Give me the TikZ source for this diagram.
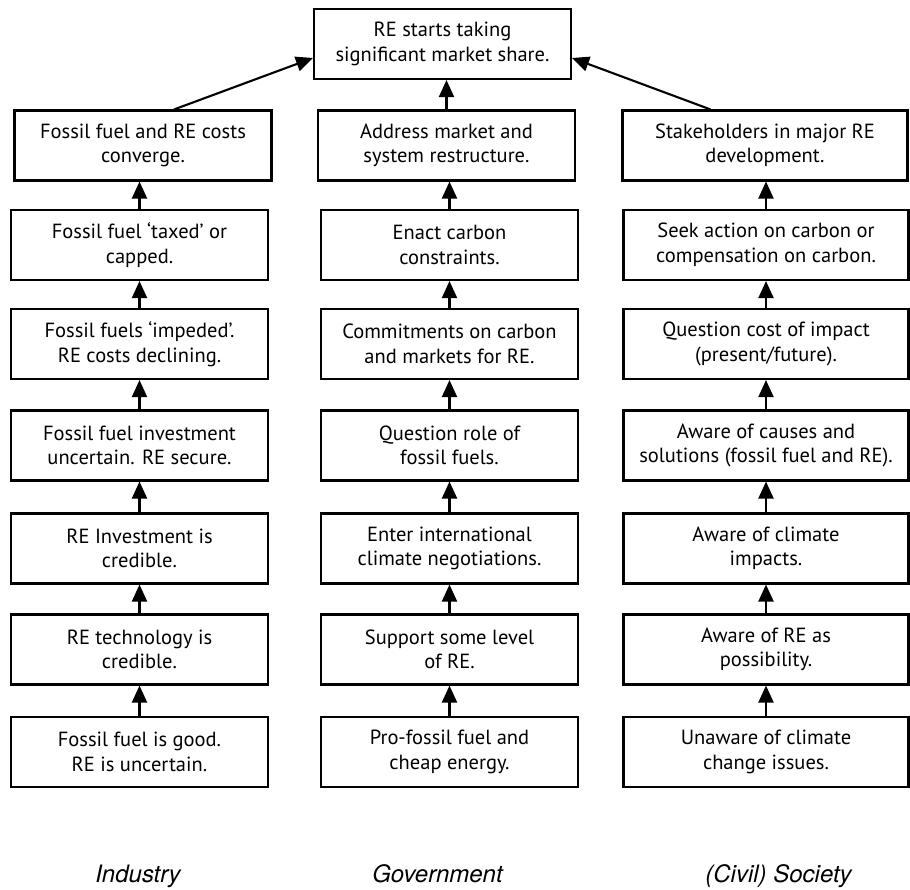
\documentclass[tikz,border=0pt]{standalone}
\usepackage{fontspec}
\setmainfont{PT Sans}
\newfontfamily\labelfont{TeX Gyre Heros}
\usetikzlibrary{arrows.meta,calc}
\begin{document}
\begin{tikzpicture}[x=1pt,y=-1pt,
  stage/.style={draw=black, line width=2.1pt, fill=white, align=center,
    minimum width=257pt, minimum height=70pt, inner sep=0pt,
    font=\fontsize{20.5}{24.5}\selectfont},
  widestage/.style={stage, minimum width=285pt},
  up/.style={line width=2.1pt, -{Triangle[length=17pt,width=15pt]}},
  sector/.style={anchor=base, font=\labelfont\itshape\fontsize{24}{28}\selectfont}]
\useasboundingbox (0,0) rectangle (910,890);

% goal
\node[stage] (top) at (442.5,44) {RE starts taking\\significant market share.};

% industry column
\node[stage] (i1) at (143,145.5) {Fossil fuel and RE costs\\converge.};
\node[stage] (i2) at (139.5,245) {Fossil fuel ‘taxed’ or\\capped.};
\node[stage] (i3) at (139.5,344) {Fossil fuels ‘impeded’.\\RE costs declining.};
\node[stage] (i4) at (139.5,445.5) {Fossil fuel investment\\uncertain. RE secure.};
\node[stage] (i5) at (139.5,548.5) {RE Investment is\\credible.};
\node[stage] (i6) at (139.5,649.5) {RE technology is\\credible.};
\node[stage] (i7) at (139.5,752) {Fossil fuel is good.\\RE is uncertain.};

% government column
\node[stage] (g1) at (446.5,145.5) {Address market and\\system restructure.};
\node[stage] (g2) at (449.5,245) {Enact carbon\\constraints.};
\node[stage] (g3) at (449.5,344) {Commitments on carbon\\and markets for RE.};
\node[stage] (g4) at (449.5,445.5) {Question role of\\fossil fuels.};
\node[stage] (g5) at (449.5,548.5) {Enter international\\climate negotiations.};
\node[stage] (g6) at (449.5,649.5) {Support some level\\of RE.};
\node[stage] (g7) at (449.5,752) {Pro-fossil fuel and\\cheap energy.};

% society column
\node[widestage] (s1) at (765,145.5) {Stakeholders in major RE\\development.};
\node[widestage] (s2) at (766,245) {Seek action on carbon or\\compensation on carbon.};
\node[widestage] (s3) at (766,344) {Question cost of impact\\(present/future).};
\node[widestage] (s4) at (766,445.5) {Aware of causes and\\solutions (fossil fuel and RE).};
\node[widestage] (s5) at (766,548.5) {Aware of climate\\impacts.};
\node[widestage] (s6) at (766,649.5) {Aware of RE as\\possibility.};
\node[widestage] (s7) at (766,752) {Unaware of climate\\change issues.};

% upward steps within each column
\foreach \c in {i,g,s}{
  \foreach \a/\b in {7/6,6/5,5/4,4/3,3/2,2/1}{
    \draw[up] (\c\a.north) -- (\c\a.north |- \c\b.south);
  }
}

% columns feeding the goal
\coordinate (ifoot) at ($(i1.north west)!0.62!(i1.north east)$);
\coordinate (sfoot) at ($(s1.north west)!0.31!(s1.north east)$);
\draw[up] (ifoot) -- ($(top.west)+(0,14)$);
\draw[up] (g1.north) -- (g1.north |- top.south);
\draw[up] (sfoot) -- ($(top.east)+(0,14)$);

% sector labels
\node[sector] (lind) at (138,882) {Industry};
\node[sector] (lgov) at (437.5,882) {Government};
\node[sector] (lsoc) at (778.5,882) {(Civil) Society};
\end{tikzpicture}
\end{document}
